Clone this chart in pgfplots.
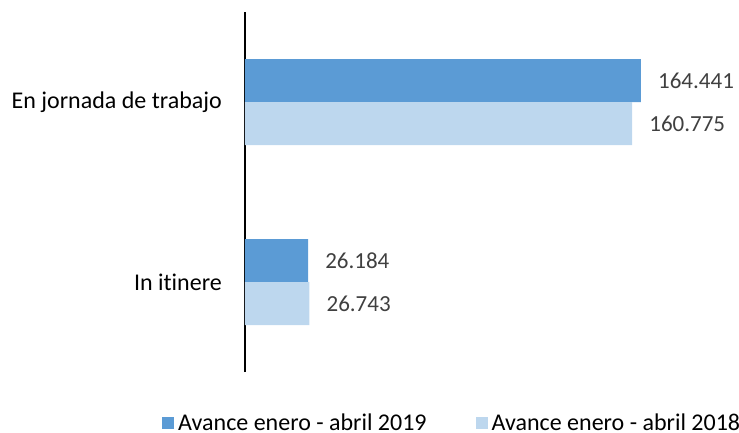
\documentclass[border=0pt]{standalone}
\usepackage{pgfplots}
\pgfplotsset{compat=1.18}
\usepackage{fontspec}
\setmainfont{Carlito}[Ligatures=NoCommon]
\definecolor{c19}{HTML}{5B9BD5}
\definecolor{c18}{HTML}{BDD7EE}
\definecolor{lbl}{HTML}{404040}
\begin{document}
\begin{tikzpicture}[font=\fontsize{24}{29}\selectfont]
\path[use as bounding box] (0,0) rectangle (739pt,-433pt);
\begin{axis}[
  at={(245pt,-372pt)}, anchor=south west,
  scale only axis, width=481.6pt, height=360pt,
  xbar, bar width=43pt,
  xmin=0, xmax=200000,
  ymin=-0.5, ymax=1.5,
  ytick={0,1}, yticklabels={In itinere, En jornada de trabajo},
  xtick=\empty,
  axis y line*=left, axis x line=none,
  y axis line style={line width=1.5pt, black},
  major tick length=0pt,
  clip=false,
  yticklabel style={inner sep=0pt, xshift=-23pt, text=black, font=\fontsize{24}{29}\selectfont},
  point meta=explicit symbolic,
  nodes near coords,
  every node near coord/.append style={anchor=west, inner sep=0pt, xshift=17pt, text=lbl, font=\fontsize{23}{28}\selectfont},
  legend columns=2,
  legend style={at={(axis description cs:-0.1723,-0.1417)}, anchor=west, draw=none, fill=none, inner sep=0pt,
    font=\fontsize{24}{29}\selectfont,
    nodes={inner sep=1pt, text=black},
    /tikz/every odd column/.append style={column sep=3pt},
    /tikz/every even column/.append style={column sep=48pt}},
  legend cell align=left,
]
\addplot[fill=c19, draw=none, bar shift=21.5pt, legend image code/.code={\fill[c19] (0pt,-6pt) rectangle (12pt,6pt);}]
  coordinates {(26184,0) [26.184] (164441,1) [164.441]};
\addplot[fill=c18, draw=none, bar shift=-21.5pt, legend image code/.code={\fill[c18] (0pt,-6pt) rectangle (12pt,6pt);}]
  coordinates {(26743,0) [26.743] (160775,1) [160.775]};
\legend{Avance enero - abril 2019, Avance enero - abril 2018}
\end{axis}
\end{tikzpicture}
\end{document}
